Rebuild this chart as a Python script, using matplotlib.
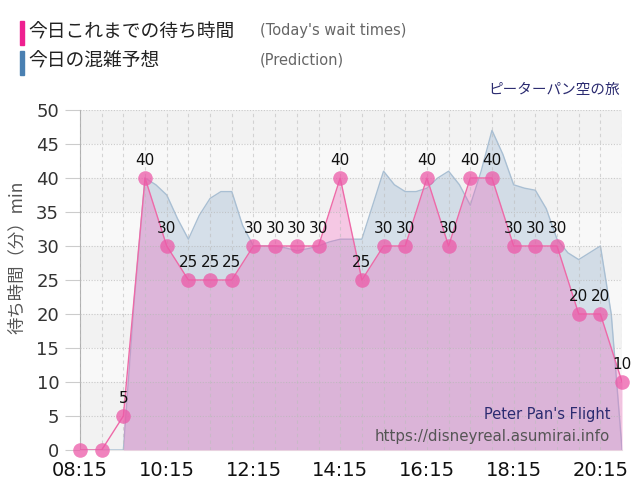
import matplotlib
matplotlib.use('Agg')
import matplotlib.pyplot as plt
from matplotlib.patches import Rectangle

# today's wait times, every 30 min
times = ['08:15', '08:45', '09:15', '09:45', '10:15', '10:45', '11:15', '11:45',
         '12:15', '12:45', '13:15', '13:45', '14:15', '14:45', '15:15', '15:45',
         '16:15', '16:45', '17:15', '17:45', '18:15', '18:45', '19:15', '19:45',
         '20:15', '20:45']
wait = [0, 0, 5, 40, 30, 25, 25, 25, 30, 30, 30, 30, 40, 25, 30, 30,
        40, 30, 40, 40, 30, 30, 30, 20, 20, 10]

# prediction curve, read every 15 min
pred_times = ['08:15', '08:30', '08:45', '09:00', '09:15', '09:30', '09:45', '10:00',
              '10:15', '10:30', '10:45', '11:00', '11:15', '11:30', '11:45', '12:00',
              '12:15', '12:30', '12:45', '13:00', '13:15', '13:30', '13:45', '14:00',
              '14:15', '14:30', '14:45', '15:00', '15:15', '15:30', '15:45', '16:00',
              '16:15', '16:30', '16:45', '17:00', '17:15', '17:30', '17:45', '18:00',
              '18:15', '18:30', '18:45', '19:00', '19:15', '19:30', '19:45', '20:00',
              '20:15', '20:30', '20:45']
pred = [0, 0, 0, 0, 0, 22, 40, 39, 37.5, 34, 31, 34.5, 37, 38, 38, 33,
        30, 30, 30, 29.7, 29.3, 29.6, 30, 30.6, 31, 31, 31, 36, 41, 39, 38, 38,
        38.5, 40, 41, 39, 36, 41, 47, 43.5, 39, 38.5, 38.2, 35.5, 31, 29, 28, 29,
        30, 20, 0]

xtick_labels = ['08:15', '10:15', '12:15', '14:15', '16:15', '18:15', '20:15']


def hours(s):
    h, m = s.split(':')
    return int(h) + int(m) / 60


x = [hours(t) for t in times]
px = [hours(t) for t in pred_times]

jp = ['Noto Sans CJK JP', 'DejaVu Sans']

fig = plt.figure(figsize=(6.4, 5), dpi=100)
ax = fig.add_axes([0.125, 0.1, 0.847, 0.68])

ax.set_xlim(x[0], x[-1])
ax.set_ylim(0, 50)

# striped background
for lo in range(0, 50, 5):
    c = '#f2f2f2' if (lo // 5) % 2 == 1 or lo == 0 else '#f8f8f8'
    ax.axhspan(lo, lo + 5, color=c, zorder=0, lw=0)

# prediction area
ax.fill_between(px, pred, color='#b4c8dc', alpha=0.5, lw=0, zorder=2)
ax.plot(px, pred, color='#a9bfd3', lw=1, zorder=3)

# wait time area
ax.fill_between(x[2:], wait[2:], color='#f05ab9', alpha=0.3, lw=0, zorder=4)

# grid shows through the fills
for yv in range(5, 51, 5):
    ax.axhline(yv, color='#b8b8b8', lw=0.8, ls=(0, (1, 1.5)), alpha=0.7, zorder=4.5)
for xv in x:
    ax.axvline(xv, color='#bdbdbd', lw=0.8, ls=(0, (3, 3)), alpha=0.6, zorder=4.5)

ax.plot(x, wait, color='#ee6aa8', lw=1, zorder=5)
ax.plot(x, wait, 'o', ms=10.5, color='#ec5aa8', alpha=0.75, mec='none',
        zorder=6, clip_on=False)

for xi, v in zip(x, wait):
    if v > 0:
        ax.annotate(str(v), (xi, v), xytext=(0, 7.5), textcoords='offset points',
                    ha='center', va='bottom', fontsize=11, color='#111111', zorder=7)

ax.set_yticks(range(0, 51, 5))
ax.set_xticks([hours(t) for t in xtick_labels])
ax.set_xticklabels(xtick_labels)
ax.tick_params(axis='y', labelsize=13, labelcolor='#333333', length=11,
               color='#cccccc', pad=4)
ax.tick_params(axis='x', labelsize=14, labelcolor='#111111', length=0, pad=8)

for s in ['top', 'right']:
    ax.spines[s].set_visible(False)
ax.spines['left'].set_color('#b0b0b0')
ax.spines['bottom'].set_color('#e8e8e8')

ax.set_ylabel('待ち時間（分）min', family=jp, fontsize=12.5, color='#555555')
ax.yaxis.set_label_coords(-0.1, 0.568)

# header legend
fig.patches.append(Rectangle((20 / 640, 1 - 45 / 500), 4 / 640, 24 / 500,
                             transform=fig.transFigure, color='#ee2090'))
fig.patches.append(Rectangle((20 / 640, 1 - 75 / 500), 4 / 640, 24 / 500,
                             transform=fig.transFigure, color='#4a80b2'))
fig.text(28 / 640, 1 - 32 / 500, '今日これまでの待ち時間', family=jp, fontsize=13.5,
         color='#222222', va='center')
fig.text(28 / 640, 1 - 61 / 500, '今日の混雑予想', family=jp, fontsize=13.5,
         color='#222222', va='center')
fig.text(260 / 640, 1 - 31 / 500, "(Today's wait times)", fontsize=10.5,
         color='#666666', va='center')
fig.text(260 / 640, 1 - 60 / 500, '(Prediction)', fontsize=10.5,
         color='#666666', va='center')
fig.text(620 / 640, 1 - 90 / 500, 'ピーターパン空の旅', family=jp, fontsize=10.5,
         color='#2b2b70', ha='right', va='center')

fig.text(610 / 640, 1 - 414 / 500, "Peter Pan's Flight", fontsize=10.5,
         color='#2b2b70', ha='right', va='center')
fig.text(610 / 640, 1 - 436 / 500, 'https://disneyreal.asumirai.info', fontsize=10.8,
         color='#555555', ha='right', va='center')

fig.savefig('out.png', dpi=100)
